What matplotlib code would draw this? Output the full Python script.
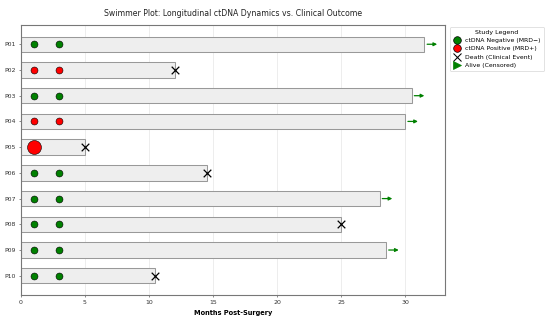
import matplotlib
matplotlib.use("Agg")
import matplotlib.pyplot as plt
from matplotlib.lines import Line2D

patients = ["P01", "P02", "P03", "P04", "P05", "P06", "P07", "P08", "P09", "P10"]
durations = [31.5, 12, 30.5, 30, 5, 14.5, 28, 25, 28.5, 10.5]
died = [False, True, False, False, True, True, False, True, False, True]
# ctDNA draws: (month, positive?)
draw_months = [1, 3]
ctdna_status = [
    ["neg", "neg"],
    ["pos", "pos"],
    ["neg", "neg"],
    ["pos", "pos"],
    ["pos_big"],
    ["neg", "neg"],
    ["neg", "neg"],
    ["neg", "neg"],
    ["neg", "neg"],
    ["neg", "neg"],
]

fig = plt.figure(figsize=(11, 6.4), dpi=50)
ax = fig.add_axes([0.038, 0.078, 0.771, 0.844])

ys = list(range(len(patients)))
ax.barh(ys, durations, height=0.6, color="#eeeeee", edgecolor="#999999",
        linewidth=1.5, zorder=2)

for i, statuses in enumerate(ctdna_status):
    for m, st in zip(draw_months, statuses):
        if st == "neg":
            ax.scatter(m, i, s=100, color="green", edgecolor="black", linewidth=0.8, zorder=4)
        elif st == "pos":
            ax.scatter(m, i, s=100, color="red", edgecolor="black", linewidth=0.8, zorder=4)
        else:
            ax.scatter(m, i, s=400, color="red", edgecolor="black", linewidth=0.8, zorder=4)

for i, (d, dead) in enumerate(zip(durations, died)):
    if dead:
        ax.scatter(d, i, marker="x", s=120, color="black", linewidth=1.8, zorder=5)
    else:
        ax.annotate("", xy=(d + 1.1, i), xytext=(d + 0.1, i),
                    arrowprops=dict(arrowstyle="-|>", color="green", lw=1.8,
                                    mutation_scale=10), zorder=5)

ax.set_yticks(ys)
ax.set_yticklabels(patients, fontsize=9, color="#333333")
ax.set_ylim(9.75, -0.75)
ax.set_xlim(0, 33.1)
ax.set_xticks([0, 5, 10, 15, 20, 25, 30])
ax.tick_params(axis="x", labelsize=9, colors="#333333")
ax.tick_params(axis="y", colors="#333333")
ax.grid(axis="x", color="#e6e6e6", linewidth=1, zorder=0)
ax.set_axisbelow(True)
for s in ax.spines.values():
    s.set_color("#777777")
    s.set_linewidth(1.6)

ax.set_xlabel("Months Post-Surgery", fontsize=9.5, fontweight="bold")
ax.xaxis.set_label_coords(0.5, -0.055)
ax.set_title("Swimmer Plot: Longitudinal ctDNA Dynamics vs. Clinical Outcome",
             fontsize=11.2, color="#222222", pad=13)

handles = [
    Line2D([], [], marker="o", color="green", markeredgecolor="black", linestyle="", markersize=11),
    Line2D([], [], marker="o", color="red", markeredgecolor="black", linestyle="", markersize=11),
    Line2D([], [], marker="x", color="black", linestyle="", markersize=11, markeredgewidth=1.5),
    Line2D([], [], marker=">", color="green", linestyle="", markersize=11),
]
labels = ["ctDNA Negative (MRD\u2212)", "ctDNA Positive (MRD+)",
          "Death (Clinical Event)", "Alive (Censored)"]
ax.legend(handles, labels, title="Study Legend", loc="upper left",
          bbox_to_anchor=(1.005, 1.005), fontsize=8.8, title_fontsize=9,
          handlelength=1.2, handletextpad=0.8, labelspacing=0.5,
          borderpad=0.5)

fig.savefig("out.png", dpi=50)
